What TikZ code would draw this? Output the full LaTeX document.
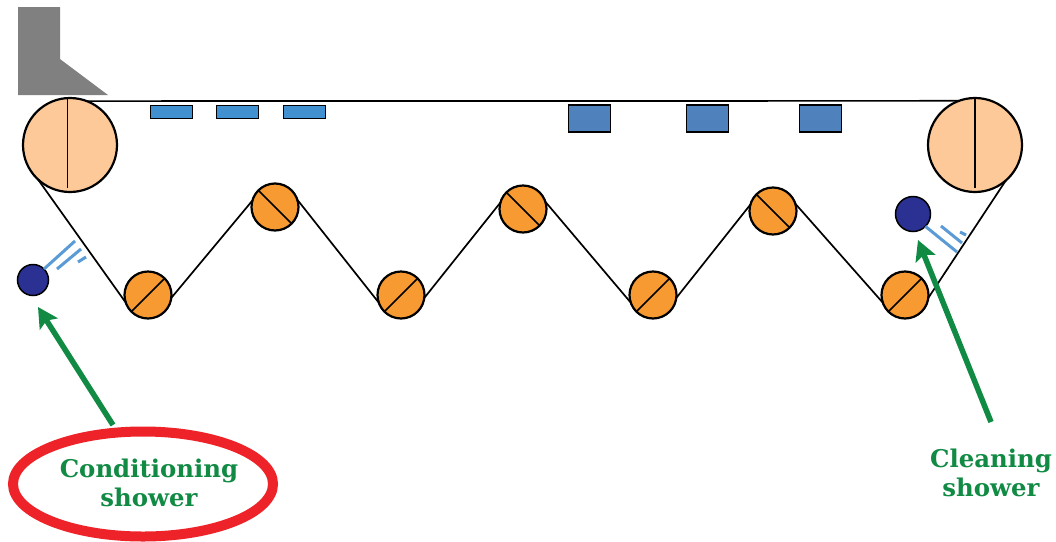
\documentclass[tikz,border=0pt]{standalone}
\usepackage{fontspec}
\setmainfont{DejaVu Serif}
\usetikzlibrary{arrows.meta}
\usetikzlibrary{shapes.geometric}

\definecolor{headgray}{HTML}{808080}
\definecolor{rollerlight}{HTML}{FDC998}
\definecolor{rollerorange}{HTML}{F79A32}
\definecolor{showerblue}{HTML}{2A3192}
\definecolor{foilblue}{HTML}{4190CF}
\definecolor{boxblue}{HTML}{4F81BD}
\definecolor{spray}{HTML}{5B9BD5}
\definecolor{labelgreen}{HTML}{118A44}
\definecolor{ringred}{HTML}{EE2329}

\begin{document}
\begin{tikzpicture}[x=1pt, y=-1pt]
    \tikzstyle{belt} = [line width=1.7pt]
    \tikzstyle{bigroller} = [circle, draw, line width=2.2pt, fill=rollerlight, minimum size=94pt, inner sep=0pt, outer sep=0pt]
    \tikzstyle{smallroller} = [circle, draw, line width=2.2pt, fill=rollerorange, minimum size=47pt, inner sep=0pt, outer sep=0pt]
    \tikzstyle{shower} = [circle, draw, line width=1.5pt, fill=showerblue, inner sep=0pt, outer sep=0pt]
    \tikzstyle{foil} = [draw, line width=1.2pt, fill=foilblue, minimum width=42pt, minimum height=13pt, inner sep=0pt, outer sep=0pt]
    \tikzstyle{vacbox} = [draw, line width=1.2pt, fill=boxblue, minimum width=42pt, minimum height=27pt, inner sep=0pt, outer sep=0pt]
    \tikzstyle{jet} = [spray, line width=3pt]
    \tikzstyle{pointer} = [labelgreen, line width=5.5pt, -{Stealth[length=20pt, width=21pt, inset=4pt]}]
    \tikzstyle{caption} = [text=labelgreen, align=center, font=\fontsize{24.4}{29}\selectfont\bfseries, inner sep=0pt]

    \useasboundingbox (0, 0) rectangle (1056, 541);

    \fill[headgray] (18, 7) -- (60, 7) -- (60, 59) -- (108, 95) -- (18, 95) -- cycle;

    \node[bigroller] (bigleft) at (70, 145) {};
    \node[bigroller] (bigright) at (975, 145) {};
    \draw[belt, shorten >=4pt] (bigleft.93) -- (bigleft.267);
    \draw[belt, shorten >=4pt] (bigright.90) -- (bigright.270);

    \foreach \name/\x in {low1/148, low2/401, low3/653, low4/905} {
        \node[smallroller] (\name) at (\x, 295) {};
        \draw[belt] (\name.225) -- (\name.45);
    }
    \foreach \name/\x/\y in {up1/275/207, up2/523/209, up3/773/211} {
        \node[smallroller] (\name) at (\x, \y) {};
        \draw[belt] (\name.135) -- (\name.-45);
    }

    \draw[belt] (bigleft.69.5) -- (bigright.110.5);
    \draw[belt] (bigleft.227) -- (low1.199);
    \draw[belt] (low1.353) -- (up1.164);
    \draw[belt] (up1.18) -- (low2.199);
    \draw[belt] (low2.353) -- (up2.164);
    \draw[belt] (up2.18) -- (low3.199);
    \draw[belt] (low3.353) -- (up3.164);
    \draw[belt] (up3.18) -- (low4.199);
    \draw[belt] (low4.353) -- (bigright.311);

    \foreach \name/\x in {foila/171.5, foilb/237.5, foilc/304.5} {
        \node[foil] (\name) at (\x, 112) {};
    }
    \foreach \name/\x in {boxa/589.5, boxb/707.5, boxc/820.5} {
        \node[vacbox] (\name) at (\x, 118.5) {};
    }

    \node[shower, minimum size=31pt] (condshower) at (33, 280) {};
    \node[shower, minimum size=35pt] (cleanshower) at (913, 214) {};

    \draw[jet] (condshower.45) -- (75, 241);
    \draw[jet] (57, 269) -- (81, 249);
    \draw[jet] (78, 262) -- (86, 257);
    \draw[jet] (cleanshower.-45) -- (957, 252);
    \draw[jet] (941, 226) -- (962, 243);
    \draw[jet] (960, 232) -- (966, 235);

    \node[ellipse, draw=ringred, line width=10pt, minimum width=260pt, minimum height=105pt, inner sep=0pt, outer sep=0pt] (condring) at (143, 484) {};
    \node[caption] (condlabel) at (149, 483) {Conditioning\\shower};
    \node[caption] (cleanlabel) at (991, 473) {Cleaning\\shower};

    \coordinate (condtip) at (38, 307);
    \coordinate (cleantip) at (918, 240);
    \coordinate (condtail) at (113, 425);
    \coordinate (cleantail) at (991, 422);
    \draw[pointer] (condtail) -- (condtip);
    \draw[pointer] (cleantail) -- (cleantip);
\end{tikzpicture}
\end{document}
